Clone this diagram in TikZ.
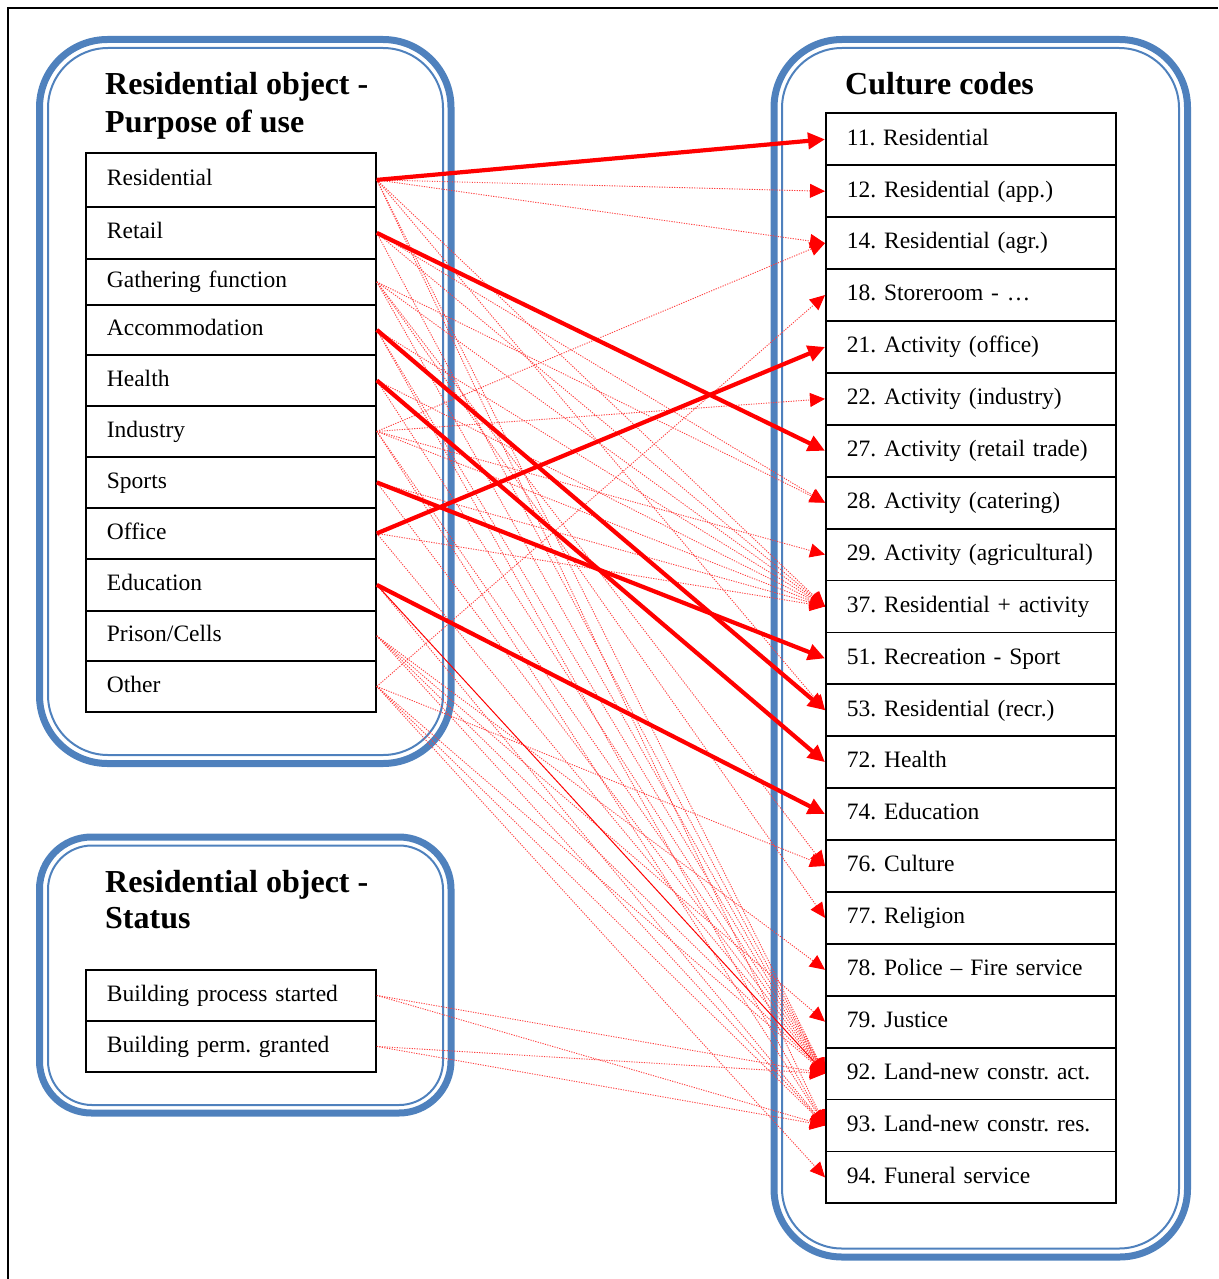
\documentclass[tikz,border=0pt]{standalone}
\usepackage{fontspec}
\setmainfont{Liberation Serif}
\usetikzlibrary{arrows.meta}
\definecolor{boxblue}{RGB}{79,129,189}
\frenchspacing
\begin{document}
\begin{tikzpicture}[x=1pt,y=-1pt,
  cell/.style={draw, line width=1.8pt, minimum width=290pt, text width=248pt,
    inner xsep=21pt, inner ysep=0pt, align=left, anchor=north west,
    font=\fontsize{23.5}{28}\selectfont\frenchspacing, text height=17pt, text depth=5.5pt},
  title/.style={anchor=base west, inner sep=0pt, font=\fontsize{32}{38}\bfseries\selectfont},
  outerline/.style={draw=boxblue, line width=7pt},
  innerline/.style={draw=boxblue, line width=2pt},
  strong/.style={draw=red, line width=4.2pt, -{Triangle[length=17pt,width=16pt]}},
  thin/.style={draw=red, line width=1pt, -{Triangle[length=15pt,width=14pt]}},
  weak/.style={draw=red!75, line width=0.9pt, dash pattern=on 1.2pt off 1.3pt,
    -{Triangle[length=15pt,width=14pt,color=red]}}]
\useasboundingbox (0,0) rectangle (1218,1279);
% page frame
\draw[line width=1.5pt] (8,1279) -- (8,8) -- (1218,8);

% rounded group outlines (thick line with a thin inner companion)
\draw[outerline, rounded corners=68pt] (39.5,39.5) rectangle (451,763.5);
\draw[innerline, rounded corners=60pt] (48,48) rectangle (443,755);
\draw[outerline, rounded corners=52pt] (39.5,837) rectangle (451,1113);
\draw[innerline, rounded corners=44pt] (48,845.5) rectangle (443,1105);
\draw[outerline, rounded corners=68pt] (774,39.5) rectangle (1187.5,1257);
\draw[innerline, rounded corners=60pt] (782,48) rectangle (1179,1248.5);

% group titles
\node[title] (t1a) at (105,95) {Residential object -};
\node[title] (t1b) at (105,132) {Purpose of use};
\node[title] (t2a) at (105,892) {Residential object -};
\node[title] (t2b) at (105,928) {Status};
\node[title] (t3) at (845,95) {Culture codes};

% purpose of use
\node[cell, minimum height=54pt] (l1)  at (85,152) {Residential};
\node[cell, minimum height=52pt] (l2)  at (85,206) {Retail};
\node[cell, minimum height=46pt] (l3)  at (85,258) {Gathering function};
\node[cell, minimum height=50pt] (l4)  at (85,304) {Accommodation};
\node[cell, minimum height=51pt] (l5)  at (85,354) {Health};
\node[cell, minimum height=51pt] (l6)  at (85,405) {Industry};
\node[cell, minimum height=51pt] (l7)  at (85,456) {Sports};
\node[cell, minimum height=51pt] (l8)  at (85,507) {Office};
\node[cell, minimum height=52pt] (l9)  at (85,558) {Education};
\node[cell, minimum height=50pt] (l10) at (85,610) {Prison/Cells};
\node[cell, minimum height=51pt] (l11) at (85,660) {Other};

% status
\node[cell, minimum height=51pt] (s1) at (85,969) {Building process started};
\node[cell, minimum height=51pt] (s2) at (85,1020) {Building perm. granted};

% culture codes
\foreach \k/\t [count=\i from 0] in {
  11/{11. Residential}, 12/{12. Residential (app.)}, 14/{14. Residential (agr.)},
  18/{18. Storeroom - …}, 21/{21. Activity (office)}, 22/{22. Activity (industry)},
  27/{27. Activity (retail trade)}, 28/{28. Activity (catering)},
  29/{29. Activity (agricultural)}, 37/{37. Residential + activity},
  51/{51. Recreation - Sport}, 53/{53. Residential (recr.)}, 72/{72. Health},
  74/{74. Education}, 76/{76. Culture}, 77/{77. Religion},
  78/{78. Police – Fire service}, 79/{79. Justice}, 92/{92. Land-new constr. act.},
  93/{93. Land-new constr. res.}, 94/{94. Funeral service}}
  \node[cell, minimum width=289pt, minimum height=51.9pt] (c\k) at (825,112.5+51.9*\i) {\rlap{\t}};

% possible correspondences
\foreach \a/\b in {l1/c12, l1/c14, l1/c37, l1/c53, l1/c92, l1/c93,
  l2/c28, l2/c37, l2/c92,
  l3/c28, l3/c37, l3/c76, l3/c77, l3/c92,
  l4/c37, l4/c92, l4/c93,
  l5/c37, l5/c92,
  l6/c14, l6/c22, l6/c29, l6/c37, l6/c92, l6/c93,
  l7/c37, l7/c92,
  l8/c37, l8/c92,
  l9/c93,
  l10/c78, l10/c79, l10/c92, l10/c93,
  l11/c18, l11/c76, l11/c92, l11/c93, l11/c94,
  s1/c92, s1/c93, s2/c92, s2/c93}
  \draw[weak] (\a.east) -- (\b.west);

\draw[thin] (l9.east) -- (c92.west);

% main correspondences
\draw[strong] (l1.east) -- (c11.west);
\draw[strong] (l2.east) -- (c27.west);
\draw[strong] (l4.east) -- (c53.west);
\draw[strong] (l5.east) -- (c72.west);
\draw[strong] (l7.east) -- (c51.west);
\draw[strong] (l8.east) -- (c21.west);
\draw[strong] (l9.east) -- (c74.west);
\end{tikzpicture}
\end{document}
